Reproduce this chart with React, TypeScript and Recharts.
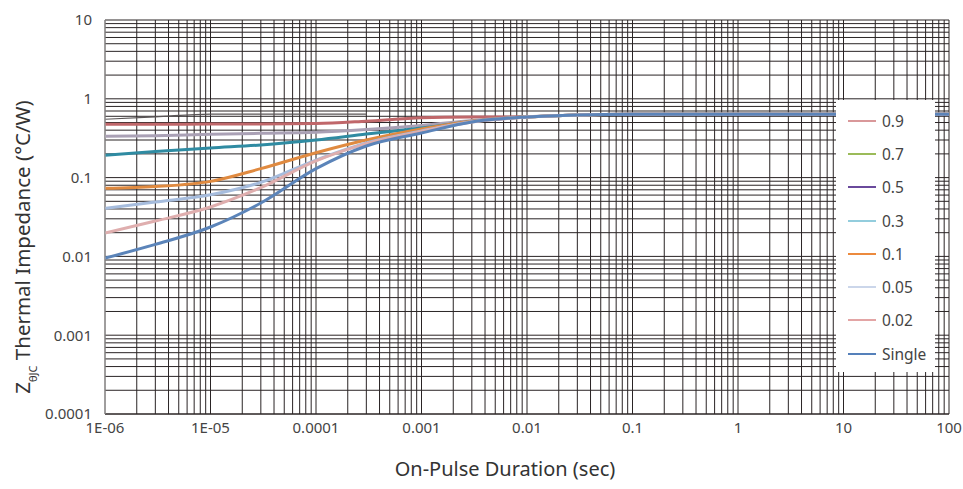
import { LineChart, Line, XAxis, YAxis, ReferenceLine, Legend, Label } from 'recharts'

// pulse duration (sec)
const times = [1e-6, 3e-6, 1e-5, 3e-5, 1e-4, 3e-4, 1e-3, 3e-3, 1e-2, 3e-2, 0.1, 1, 10, 100]

// Z thermal impedance (°C/W) per duty cycle
const d09 = [0.55, 0.59, 0.64, 0.64, 0.64, 0.64, null, null, null, null, null, null, null, null]
const d07 = [0.474, 0.474, 0.48, 0.48, 0.486, 0.52, 0.574, 0.588, 0.59, 0.623, 0.636, 0.638, 0.638, 0.638]
const d05 = [0.334, 0.34, 0.355, 0.365, 0.376, 0.407, 0.458, 0.53, 0.59, 0.623, 0.636, 0.638, 0.638, 0.638]
const d03 = [0.192, 0.214, 0.238, 0.259, 0.3, 0.357, 0.427, 0.515, 0.588, 0.623, 0.636, 0.638, 0.638, 0.638]
const d01 = [0.073, 0.077, 0.0895, 0.13, 0.207, 0.3, 0.414, 0.52, 0.588, 0.623, 0.636, 0.638, 0.638, 0.638]
const d005 = [0.0407, 0.049, 0.0605, 0.087, 0.167, 0.275, 0.39, 0.51, 0.588, 0.623, 0.636, 0.638, 0.638, 0.638]
const d002 = [0.0198, 0.0281, 0.0424, 0.0745, 0.163, 0.27, 0.385, 0.508, 0.588, 0.623, 0.636, 0.638, 0.638, 0.638]
const single = [0.0095, 0.0142, 0.0236, 0.0476, 0.13, 0.252, 0.368, 0.508, 0.588, 0.623, 0.636, 0.638, 0.638, 0.638]

const xTicks = [1e-6, 1e-5, 1e-4, 1e-3, 1e-2, 0.1, 1, 10, 100]
const xTickLabels = ['1E-06', '1E-05', '0.0001', '0.001', '0.01', '0.1', '1', '10', '100']
const yTicks = [0.0001, 0.001, 0.01, 0.1, 1, 10]
const yTickLabels = ['0.0001', '0.001', '0.01', '0.1', '1', '10']

const legendItems = [
  { name: '0.9', color: '#d9989a' },
  { name: '0.7', color: '#9bbb59' },
  { name: '0.5', color: '#6a4a9c' },
  { name: '0.3', color: '#93cddd' },
  { name: '0.1', color: '#ec8a3e' },
  { name: '0.05', color: '#cbd6ea' },
  { name: '0.02', color: '#e3a5a5' },
  { name: 'Single', color: '#5580ba' },
]

const data = times.map((t, i) => ({
  t,
  d09: d09[i],
  d07: d07[i],
  d05: d05[i],
  d03: d03[i],
  d01: d01[i],
  d005: d005[i],
  d002: d002[i],
  single: single[i],
}))

// log grid: 1..9 in every decade
const decadeLines = (lo: number, hi: number) => {
  const out: number[] = []
  for (let e = lo; e < hi; e++) {
    for (let m = 1; m < 10; m++) out.push(m * Math.pow(10, e))
  }
  out.push(Math.pow(10, hi))
  return out
}
const vLines = decadeLines(-6, 2)
const hLines = decadeLines(-4, 1)

const font = '"Noto Sans", sans-serif'
const gridColor = '#2a2425'

function LegendBox() {
  return (
    <div style={{ background: '#fff', width: 99, height: 272, paddingTop: 4, boxSizing: 'border-box', fontFamily: font }}>
      {legendItems.map((it) => (
        <div key={it.name} style={{ display: 'flex', alignItems: 'center', height: 33.3 }}>
          <div style={{ width: 28, height: 2, background: it.color, marginLeft: 12, marginRight: 6 }} />
          <span style={{ fontSize: 15.5, color: '#444' }}>{it.name}</span>
        </div>
      ))}
    </div>
  )
}

function YTitle() {
  return (
    <text transform="translate(30,247) rotate(-90)" textAnchor="middle" fontFamily={font} fontSize={20.5} fill="#333">
      <tspan>Z</tspan>
      <tspan fontSize={11} dy={7}>θJC</tspan>
      <tspan dy={-7}> Thermal Impedance (°C/W)</tspan>
    </text>
  )
}

export default function App() {
  return (
    <div style={{ position: 'absolute', left: 0, top: 0, background: '#fff' }}>
      <LineChart width={963} height={489} data={data} margin={{ top: 20, right: 14, bottom: 45, left: 35 }}>
        <XAxis
          dataKey="t"
          type="number"
          scale="log"
          domain={[1e-6, 100]}
          allowDataOverflow
          ticks={xTicks}
          tickFormatter={(v) => xTickLabels[xTicks.indexOf(v)] ?? String(v)}
          tick={{ fontSize: 15, fill: '#444', fontFamily: font }}
          tickLine={false}
          axisLine={{ stroke: gridColor }}
          height={30}
        >
          <Label value="On-Pulse Duration (sec)" position="bottom" offset={18} dx={-22} fontSize={20} fill="#333" fontFamily={font} />
        </XAxis>
        <YAxis
          type="number"
          scale="log"
          domain={[0.0001, 10]}
          allowDataOverflow
          ticks={yTicks}
          tickFormatter={(v) => yTickLabels[yTicks.indexOf(v)] ?? String(v)}
          tick={{ fontSize: 15, fill: '#444', fontFamily: font }}
          tickLine={false}
          tickMargin={7}
          axisLine={{ stroke: '#aaa' }}
          width={70}
          label={<YTitle />}
        />
        {vLines.map((v) => (
          <ReferenceLine key={'v' + v} x={v} stroke={gridColor} strokeWidth={1} ifOverflow="extendDomain" />
        ))}
        {hLines.map((v) => (
          <ReferenceLine key={'h' + v} y={v} stroke={gridColor} strokeWidth={1} ifOverflow="extendDomain" />
        ))}
        <Legend layout="horizontal" verticalAlign="middle" align="center" content={() => <LegendBox />} wrapperStyle={{ position: 'absolute', left: 836, top: 100, width: 99, height: 272 }} />
        <Line dataKey="d09" type="monotone" stroke="#5a5556" strokeWidth={1.2} dot={false} isAnimationActive={false} />
        <Line dataKey="d07" type="monotone" stroke="#c0676a" strokeWidth={3} dot={false} isAnimationActive={false} />
        <Line dataKey="d05" type="monotone" stroke="#aaa1b5" strokeWidth={3} dot={false} isAnimationActive={false} />
        <Line dataKey="d03" type="monotone" stroke="#2f8ba2" strokeWidth={3} dot={false} isAnimationActive={false} />
        <Line dataKey="d01" type="monotone" stroke="#e08a40" strokeWidth={3} dot={false} isAnimationActive={false} />
        <Line dataKey="d005" type="monotone" stroke="#a6bcdd" strokeWidth={3} dot={false} isAnimationActive={false} />
        <Line dataKey="d002" type="monotone" stroke="#dfaeae" strokeWidth={3} dot={false} isAnimationActive={false} />
        <Line dataKey="single" type="monotone" stroke="#5b84b9" strokeWidth={3} dot={false} isAnimationActive={false} />
      </LineChart>
    </div>
  )
}
